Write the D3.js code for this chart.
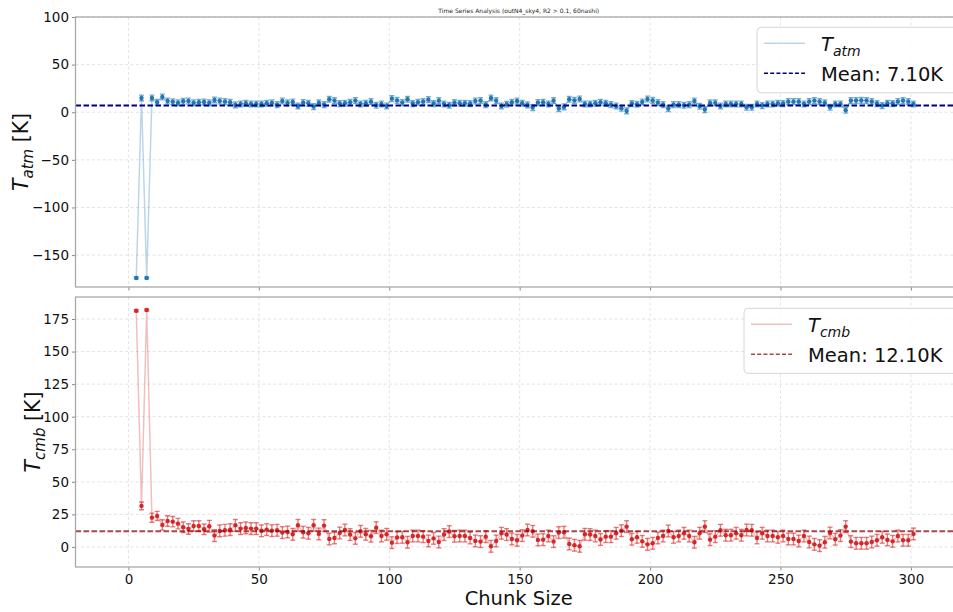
<!DOCTYPE html>
<html>
<head>
<meta charset="utf-8">
<script src="https://cdn.jsdelivr.net/npm/d3@7"></script>
<style>
  html, body { margin: 0; padding: 0; background: #fff; }
  svg { display: block; font-family: "DejaVu Sans", sans-serif; }
</style>
</head>
<body>
<svg id="chart" width="953" height="612"></svg>
<script>
// Chunk sizes (x positions)
const chunkSizes = [
  3,5,7,9,11,13,15,17,19,21,23,25,27,29,31,33,35,37,39,41,43,45,47,49,51,53,55,57,59,61,
  63,65,67,69,71,73,75,77,79,81,83,85,87,89,91,93,95,97,99,101,103,105,107,109,111,113,115,117,119,121,
  123,125,127,129,131,133,135,137,139,141,143,145,147,149,151,153,155,157,159,161,163,165,167,169,171,173,175,177,179,181,
  183,185,187,189,191,193,195,197,199,201,203,205,207,209,211,213,215,217,219,221,223,225,227,229,231,233,235,237,239,241,
  243,245,247,249,251,253,255,257,259,261,263,265,267,269,271,273,275,277,279,281,283,285,287,289,291,293,295,297,299,301
];

// Atmospheric temperature per chunk size [K]
const tAtm = [
  -174,15,-174,15,10.5,16,11.8,11,9.8,11.5,11.8,9.8,10.5,10.8,9.8,12.9,11.8,11.1,10.5,7.7,8.7,9.4,8.7,8.7,8.7,9.4,9.8,8,11.8,9.8,
  10.8,6.6,10.1,9.4,5.9,9.8,8,13.6,12.2,9.1,9.4,10.5,12.2,8.7,9.4,11.1,7.3,8.7,6.6,14.3,12.5,10.1,13.6,9.1,10.5,11.1,13.2,9.1,12.2,8.7,
  7.3,10.1,9.4,9.4,9.1,11.8,12.2,8,15,12.2,6.6,8.4,10.5,11.8,9.4,7.7,4.9,10.1,10.5,8.7,12.2,3.8,5.6,13.6,12.5,13.9,8.7,8.7,9.4,10.5,
  9.4,8,6.6,4.2,1.4,9.1,8.4,10.8,13.9,12.4,10.1,8,3.8,8,8,7.3,8,11.8,6.3,2.8,9.8,9.8,6.6,8.7,8.7,8.7,8.7,5.2,5.2,8.7,
  7,8.7,8.7,9.4,9.1,11.1,11.1,11.1,8.7,11.1,12.2,11.1,9.8,5.2,8.7,8.7,2.1,12.2,12.2,12.5,12.2,11.1,9.1,7,9.4,9.1,11.1,12.2,11.1,8.7
];
const tAtmErr = [
  1,3,1,3,3,3,3,3,3,3,3,3,3,3,3,3,3,3,3,3,3,3,3,3,3,3,3,3,3,3,
  3,3,3,3,3,3,3,3,3,3,3,3,3,3,3,3,3,3,3,3,3,3,3,3,3,3,3,3,3,3,
  3,3,3,3,3,3,3,3,3,3,3,3,3,3,3,3,3,3,3,3,3,3,3,3,3,3,3,3,3,3,
  3,3,3,3,3,3,3,3,3,3,3,3,3,3,3,3,3,3,3,3,3,3,3,3,3,3,3,3,3,3,
  3,3,3,3,3,3,3,3,3,3,3,3,3,3,3,3,3,3,3,3,3,3,3,3,3,3,3,3,3,3
];

// CMB temperature per chunk size [K]
const tCmb = [
  181.4,31.5,181.9,22.5,23.8,16.9,19.9,19.4,17.9,15.1,13.8,16.1,16.1,13.6,15.9,8.7,12.3,12.8,13.3,16.6,14.1,14.6,14.1,14.1,12.4,13.3,12.5,12.8,11,11.5,
  9.7,16.6,11.3,10.5,16.6,10,16.4,6.1,6.9,10.7,13,9.5,6.6,12,9.7,8.2,14.8,8.4,9.7,3.3,7.2,7.4,3.6,8.4,8.4,7.9,4.6,6.6,3.8,9.5,
  11.8,8.2,8.4,8.4,6.9,4.6,4.1,7.9,0.5,4.6,10.5,9.5,6.1,5.1,8.7,13,12,5.4,5.6,8.4,4.1,11,11.3,2.3,1.3,0.5,9.7,9.5,8.4,5.7,
  7.9,7.9,10.5,12.5,15.6,5.9,7.4,4.3,2,2.8,6.9,8.4,12.3,7.4,8.4,10.5,8.4,3.6,10.5,15.6,5.6,7.9,12.8,9,9,10.5,9,13,12.8,6.9,
  10.5,8.4,8.4,7.4,8.4,6.1,6.1,4.6,8.4,3.8,2,1,3.6,10.7,5.9,8.7,15.6,4.1,2.8,2.8,2.8,3.8,5.1,7.4,5.4,4.3,8.4,5.1,5.1,10
];
const tCmbErr = [
  0.8,3,0.8,3.5,3.5,4,4,4,4,4,4,4,4,4,4.5,4.5,4.5,4.5,4.5,4.5,4.5,4.5,4.5,4.5,4.5,4.5,4.5,4.5,4.5,4.5,
  4.5,4.5,4.5,4.5,4.5,4.5,4.5,4.5,4.5,4.5,4.5,4.5,4.5,4.5,4.5,4.5,4.5,4.5,4.5,4.5,4.5,4.5,4.5,4.5,4.5,4.5,4.5,4.5,4.5,4.5,
  4.5,4.5,4.5,4.5,4.5,4.5,4.5,4.5,4.5,4.5,4.5,4.5,4.5,4.5,4.5,4.5,4.5,4.5,4.5,4.5,4.5,4.5,4.5,4.5,4.5,4.5,4.5,4.5,4.5,4.5,
  4.5,4.5,4.5,4.5,4.5,4.5,4.5,4.5,4.5,4.5,4.5,4.5,4.5,4.5,4.5,4.5,4.5,4.5,4.5,4.5,4.5,4.5,4.5,4.5,4.5,4.5,4.5,4.5,4.5,4.5,
  4.5,4.5,4.5,4.5,4.5,4.5,4.5,4.5,4.5,4.5,4.5,4.5,4.5,4.5,4.5,4.5,4.5,4.5,4.5,4.5,4.5,4.5,4.5,4.5,4.5,4.5,4.5,4.5,4.5,4.5
];

// Reported means [K]
const meanAtm = 7.10;
const meanCmb = 12.10;

// Tick values
const xTicks = [0, 50, 100, 150, 200, 250, 300];
const yTicksAtm = [-150, -100, -50, 0, 50, 100];
const yTicksCmb = [0, 25, 50, 75, 100, 125, 150, 175];

const titleText = "Time Series Analysis (outN4_sky4, R2 > 0.1, 60nashi)";

const svg = d3.select("#chart");
const axLeft = 75.5, axRight = 962;

const x = d3.scaleLinear().domain([-20.3, 319.6]).range([axLeft, axRight]);

const panels = [
  {
    values: tAtm, errs: tAtmErr, mean: meanAtm, ticks: yTicksAtm,
    top: 17, bottom: 287, domain: [-183.5, 100],
    color: "#1f77b4", meanColor: "#000080", meanOpacity: 1,
    sub: "atm", labelX: 28, showXLabels: false,
    legend: { x: 757, y: 27.3, w: 220, h: 65.5 }
  },
  {
    values: tCmb, errs: tCmbErr, mean: meanCmb, ticks: yTicksCmb,
    top: 297, bottom: 567, domain: [-15.4, 191.9],
    color: "#d62728", meanColor: "#8b0000", meanOpacity: 0.72,
    sub: "cmb", labelX: 40, showXLabels: true,
    legend: { x: 744, y: 308.3, w: 230, h: 65 }
  }
];

// Title
svg.append("text")
  .attr("x", (axLeft + axRight) / 2).attr("y", 13)
  .attr("text-anchor", "middle")
  .attr("font-size", 6).attr("fill", "#222")
  .text(titleText);

panels.forEach((p, idx) => {
  const y = d3.scaleLinear().domain(p.domain).range([p.bottom, p.top]);
  const g = svg.append("g");
  const clipId = "clip" + idx;
  svg.append("clipPath").attr("id", clipId)
    .append("rect").attr("x", axLeft).attr("y", p.top)
    .attr("width", axRight - axLeft).attr("height", p.bottom - p.top);

  // grid
  const grid = g.append("g").attr("stroke", "#d0d0d0").attr("stroke-width", 0.8)
    .attr("stroke-dasharray", "3,2.5").attr("opacity", 0.75);
  xTicks.forEach(t => grid.append("line")
    .attr("x1", x(t)).attr("x2", x(t)).attr("y1", p.top).attr("y2", p.bottom));
  p.ticks.forEach(t => grid.append("line")
    .attr("x1", axLeft).attr("x2", axRight).attr("y1", y(t)).attr("y2", y(t)));

  const data = chunkSizes.map((c, i) => ({ c, v: p.values[i], e: p.errs[i] }));
  const plot = g.append("g").attr("clip-path", `url(#${clipId})`);

  // connecting line
  plot.append("path").datum(data)
    .attr("fill", "none").attr("stroke", p.color).attr("stroke-opacity", 0.3)
    .attr("stroke-width", 1.5)
    .attr("d", d3.line().x(d => x(d.c)).y(d => y(d.v)));

  // error bars
  const eb = plot.append("g").attr("stroke", p.color).attr("stroke-opacity", 0.6)
    .attr("stroke-width", 1.4);
  data.forEach(d => {
    const xc = x(d.c), y1 = y(d.v + d.e), y2 = y(d.v - d.e);
    eb.append("line").attr("x1", xc).attr("x2", xc).attr("y1", y1).attr("y2", y2);
    eb.append("line").attr("x1", xc - 2.5).attr("x2", xc + 2.5).attr("y1", y1).attr("y2", y1);
    eb.append("line").attr("x1", xc - 2.5).attr("x2", xc + 2.5).attr("y1", y2).attr("y2", y2);
  });

  // markers
  plot.append("g").selectAll("circle").data(data).join("circle")
    .attr("cx", d => x(d.c)).attr("cy", d => y(d.v)).attr("r", 2.2)
    .attr("fill", p.color);

  // mean line
  plot.append("line")
    .attr("x1", axLeft).attr("x2", axRight)
    .attr("y1", y(p.mean)).attr("y2", y(p.mean))
    .attr("stroke", p.meanColor).attr("stroke-opacity", p.meanOpacity)
    .attr("stroke-width", 2).attr("stroke-dasharray", "5.5,2.5");

  // y axis
  const yAxis = g.append("g").attr("transform", `translate(${axLeft},0)`)
    .call(d3.axisLeft(y).tickValues(p.ticks).tickSize(3.5).tickPadding(3));
  yAxis.select(".domain").remove();
  yAxis.selectAll(".tick line").attr("stroke", "#888");
  yAxis.selectAll(".tick text").attr("font-size", 13.5).attr("fill", "#111")
    .attr("font-family", "DejaVu Sans, sans-serif");

  // x axis
  const xAxis = g.append("g").attr("transform", `translate(0,${p.bottom})`)
    .call(d3.axisBottom(x).tickValues(xTicks).tickSize(3.5).tickPadding(4));
  xAxis.select(".domain").remove();
  xAxis.selectAll(".tick line").attr("stroke", "#888");
  if (p.showXLabels) {
    xAxis.selectAll(".tick text").attr("font-size", 13.5).attr("fill", "#111")
      .attr("font-family", "DejaVu Sans, sans-serif");
  } else {
    xAxis.selectAll(".tick text").remove();
  }

  // spines
  g.append("rect").attr("x", axLeft).attr("y", p.top)
    .attr("width", axRight - axLeft).attr("height", p.bottom - p.top)
    .attr("fill", "none").attr("stroke", "#aaa").attr("stroke-width", 1.3);

  // y label
  const cy = (p.top + p.bottom) / 2;
  const lbl = g.append("text")
    .attr("transform", `translate(${p.labelX},${cy}) rotate(-90)`)
    .attr("text-anchor", "middle").attr("font-size", 20.5).attr("fill", "#111");
  lbl.append("tspan").attr("font-style", "italic").text("T");
  lbl.append("tspan").attr("font-style", "italic").attr("font-size", 15)
    .attr("dy", 4.5).text(p.sub);
  lbl.append("tspan").attr("dy", -4.5).text(" [K]");

  // legend
  const L = p.legend;
  const lg = g.append("g").attr("transform", `translate(${L.x},${L.y})`);
  lg.append("rect").attr("width", L.w).attr("height", L.h).attr("rx", 4)
    .attr("fill", "#fff").attr("fill-opacity", 0.85)
    .attr("stroke", "#d6d6d6").attr("stroke-width", 1);
  lg.append("line").attr("x1", 7).attr("x2", 48).attr("y1", 16).attr("y2", 16)
    .attr("stroke", p.color).attr("stroke-opacity", 0.3).attr("stroke-width", 1.6);
  lg.append("line").attr("x1", 7).attr("x2", 48).attr("y1", 46).attr("y2", 46)
    .attr("stroke", p.meanColor).attr("stroke-opacity", p.meanOpacity)
    .attr("stroke-width", 1.5).attr("stroke-dasharray", "4,2.2");
  const lt = lg.append("text").attr("x", 64).attr("y", 24)
    .attr("font-size", 19.5).attr("fill", "#111");
  lt.append("tspan").attr("font-style", "italic").text("T");
  lt.append("tspan").attr("font-style", "italic").attr("font-size", 14)
    .attr("dy", 4.5).text(p.sub);
  lg.append("text").attr("x", 64).attr("y", 54)
    .attr("font-size", 19.5).attr("fill", "#111")
    .text(`Mean: ${p.mean.toFixed(2)}K`);
});

// x label
svg.append("text")
  .attr("x", (axLeft + axRight) / 2).attr("y", 605)
  .attr("text-anchor", "middle").attr("font-size", 19.5).attr("fill", "#111")
  .text("Chunk Size");
</script>
</body>
</html>
